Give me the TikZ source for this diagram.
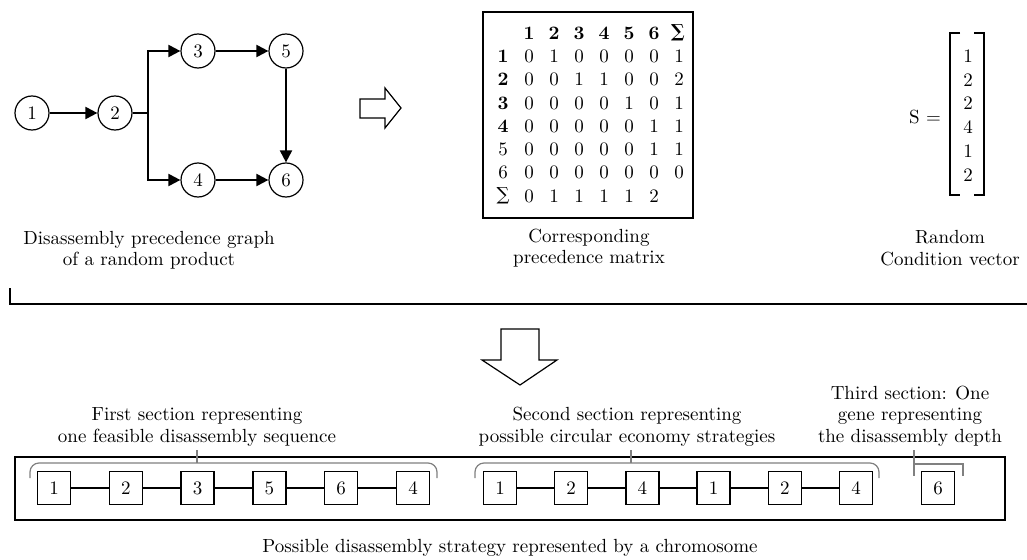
\documentclass[tikz,border=0pt]{standalone}
\usepackage{fontspec}
\setmainfont{lmroman10-regular.otf}[BoldFont=lmroman10-bold.otf, ItalicFont=lmroman10-italic.otf]
\newfontfamily\sumfont{DejaVu Serif}
\usetikzlibrary{arrows, arrows.meta}
\usetikzlibrary{positioning, calc}

\tikzset{
  part/.style={circle, draw, line width=1.2pt, minimum size=34pt, inner sep=0pt},
  gene/.style={draw, line width=1.3pt, minimum size=33pt, inner sep=0pt},
  link/.style={line width=2pt, -{Triangle[length=12pt, width=12pt]}},
  chain/.style={line width=1.3pt},
  brace/.style={draw=gray, line width=1.2pt, rounded corners=9pt},
  txt/.style={align=center, inner sep=0pt}
}
\newcommand{\tot}{{\sumfont\fontsize{18}{20}\selectfont ∑}}

\begin{document}
\begin{tikzpicture}[x=1pt, y=-1pt, font=\fontsize{19}{21.5}\selectfont]
        \useasboundingbox (0,0) rectangle (1027,559);

        % precedence graph
        \node[part] (n1) at (32,113) {1};
        \node[part] (n2) at (115,113) {2};
        \node[part] (n3) at (198,51) {3};
        \node[part] (n5) at (286,51) {5};
        \node[part] (n4) at (198,180) {4};
        \node[part] (n6) at (286,180) {6};
        \coordinate (split) at (148,113);

        \draw[link] (n1) -- (n2);
        \draw[line width=2pt] (n2) -- (split);
        \draw[link] (split) |- (n3);
        \draw[link] (split) |- (n4);
        \draw[link] (n3) -- (n5);
        \draw[link] (n4) -- (n6);
        \draw[link] (n5) -- (n6);

        \node[txt] (gcap) at (149,250) {Disassembly precedence graph\\of a random product};

        % hollow arrow to the matrix
        \draw[line width=1.2pt] (360,99) -- (385,99) -- (385,88) -- (401,108) -- (385,128) -- (385,118) -- (360,118) -- cycle;

        % precedence matrix
        \draw[line width=1.3pt] (483,12) rectangle (693,218);
        \foreach \c in {1,...,6}
          \node[txt] (h-\c) at ({504+25*\c},33) {\bfseries \c};
        \node[txt] (h-7) at (678,33) {\bfseries\tot};
        \foreach \r/\lab in {1/\bfseries 1, 2/\bfseries 2, 3/\bfseries 3, 4/\bfseries 4, 5/5, 6/6, 7/\tot}
          \node[txt] (r-\r) at (503,{33+23.3*\r}) {\lab};
        \foreach \row [count=\r] in {{0,1,0,0,0,0,1},{0,0,1,1,0,0,2},{0,0,0,0,1,0,1},{0,0,0,0,0,1,1},{0,0,0,0,0,1,1},{0,0,0,0,0,0,0},{0,1,1,1,1,2}}
          \foreach \v [count=\c] in \row
            \node[txt] (m-\r-\c) at ({504+25*\c},{33+23.3*\r}) {\v};

        \node[txt] (mcap) at (589,248) {Corresponding\\precedence matrix};

        % condition vector
        \node[txt] (s) at (925,117) {S =};
        \draw[line width=1.4pt] (960,33) -- (950,33) -- (950,195) -- (960,195);
        \draw[line width=1.4pt] (974,33) -- (984,33) -- (984,195) -- (974,195);
        \foreach \v [count=\i] in {1,2,2,4,1,2}
          \node[txt] (v-\i) at (968,{32.5+23.7*\i}) {\v};

        \node[txt] (vcap) at (950,248) {Random\\Condition vector};

        % bracket line and arrow down
        \draw[line width=1.3pt] (10,288) -- (10,304) -- (1027,304);
        \draw[line width=1.2pt] (501,329) -- (539,329) -- (539,360) -- (557,360) -- (520,385) -- (482,360) -- (501,360) -- cycle;

        % chromosome
        \draw[line width=1.3pt] (15,457) rectangle (1005,520);
        \foreach \v [count=\i] in {1,2,3,5,6,4}
          \node[gene] (a\i) at ({54+71.8*(\i-1)},488) {\v};
        \foreach \v [count=\i] in {1,2,4,1,2,4}
          \node[gene] (b\i) at ({500+71.2*(\i-1)},488) {\v};
        \node[gene] (c1) at (938,488) {6};
        \foreach \i [count=\j from 2] in {1,...,5} {
          \draw[chain] (a\i) -- (a\j);
          \draw[chain] (b\i) -- (b\j);
        }

        % section brackets
        \draw[brace] (30,478) -- (30,463) -- (437,463) -- (437,478);
        \draw[draw=gray, line width=1.2pt] (197,450) -- (197,463);
        \draw[brace] (475,478) -- (475,463) -- (879,463) -- (879,478);
        \draw[draw=gray, line width=1.2pt] (631,450) -- (631,463);
        \draw[draw=gray, line width=1.2pt] (914,450) -- (914,476);
        \draw[draw=gray, line width=1.2pt] (914,464) -- (963,464) -- (963,476);

        \node[txt] (sec1) at (197,427) {First section representing\\one feasible disassembly sequence};
        \node[txt] (sec2) at (627,427) {Second section representing\\possible circular economy strategies};
        \node[txt] (sec3) at (910,416) {Third section: One\\gene representing\\the disassembly depth};
        \node[txt] (ccap) at (510,548) {Possible disassembly strategy represented by a chromosome};
      \end{tikzpicture}
\end{document}
